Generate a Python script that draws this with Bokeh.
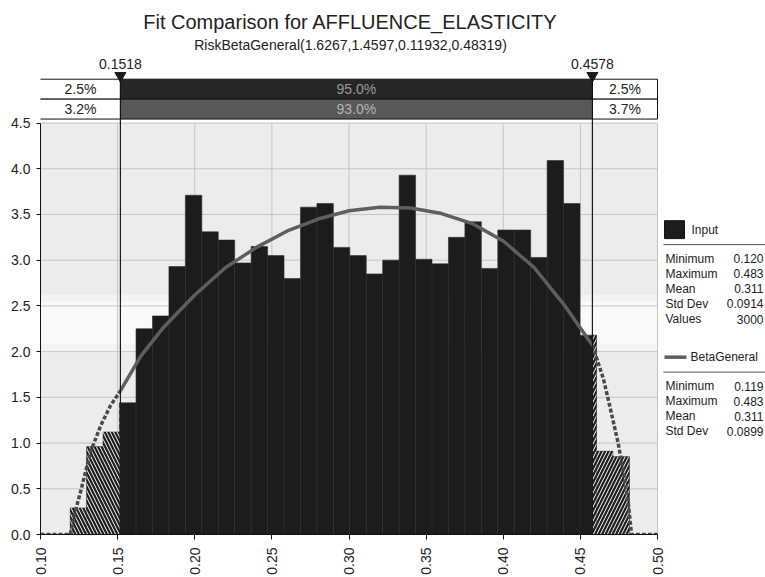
import math
from bokeh.plotting import figure
from bokeh.models import Range1d, FixedTicker, NumeralTickFormatter
from bokeh.core.properties import value
from bokeh.embed import file_html
from bokeh.resources import INLINE

# ---------------- data ----------------
title_text = "Fit Comparison for AFFLUENCE_ELASTICITY"
subtitle_text = "RiskBetaGeneral(1.6267,1.4597,0.11932,0.48319)"

bin_start = 0.1193
bin_width = 0.01066
bin_heights = [0.29, 0.96, 1.12, 1.44, 2.25, 2.39, 2.93, 3.71, 3.31, 3.22,
               2.97, 3.15, 3.05, 2.80, 3.58, 3.62, 3.14, 3.05, 2.85, 3.00,
               3.93, 3.01, 2.96, 3.25, 3.42, 2.91, 3.33, 3.33, 3.03, 4.09,
               3.62, 2.18, 0.91, 0.85]

curve_x = [0.100, 0.1193, 0.1225, 0.126, 0.1324, 0.139, 0.1454, 0.1518,
           0.165, 0.180, 0.200, 0.220, 0.240, 0.260, 0.280, 0.300, 0.320,
           0.340, 0.360, 0.380, 0.400, 0.420, 0.440, 0.4578, 0.465, 0.4698,
           0.4745, 0.4783, 0.481, 0.4832, 0.500]
curve_y = [0.0, 0.0, 0.25, 0.47, 0.90, 1.19, 1.41, 1.57,
           1.95, 2.27, 2.62, 2.92, 3.14, 3.32, 3.45, 3.54, 3.58,
           3.57, 3.51, 3.40, 3.21, 2.92, 2.50, 2.07, 1.70, 1.35,
           1.00, 0.64, 0.35, 0.0, 0.0]

cut_lo = 0.1518
cut_hi = 0.4578
pct_input = ["2.5%", "95.0%", "2.5%"]
pct_fit = ["3.2%", "93.0%", "3.7%"]

x_ticks = [0.10, 0.15, 0.20, 0.25, 0.30, 0.35, 0.40, 0.45, 0.50]
y_ticks = [0.0, 0.5, 1.0, 1.5, 2.0, 2.5, 3.0, 3.5, 4.0, 4.5]

input_name = "Input"
input_stat_names = ["Minimum", "Maximum", "Mean", "Std Dev", "Values"]
input_stat_values = ["0.120", "0.483", "0.311", "0.0914", "3000"]
fit_name = "BetaGeneral"
fit_stat_names = ["Minimum", "Maximum", "Mean", "Std Dev"]
fit_stat_values = ["0.119", "0.483", "0.311", "0.0899"]

# ---------------- layout helpers (picture pixels -> data) ----------------
W, H = 765, 577
FL, FB = 40, 536          # frame left / bottom in picture pixels

def X(px):
    return 0.10 + (px - FL) / 1542.5

def Y(py):
    return (FB - py) / 91.78

FONT = value("Liberation Sans")

p = figure(width=W, height=H, output_backend="svg", toolbar_location=None,
           x_range=Range1d(0.10, X(W)), y_range=Range1d(0, Y(0)),
           min_border_left=FL, min_border_right=0, min_border_top=0,
           min_border_bottom=H - FB)
p.outline_line_color = None
p.grid.visible = False
p.background_fill_color = "white"
p.border_fill_color = "white"

# axes
p.xaxis.bounds = (x_ticks[0], x_ticks[-1])
p.xaxis.ticker = FixedTicker(ticks=x_ticks)
p.xaxis.formatter = NumeralTickFormatter(format="0.00")
p.xaxis.major_label_orientation = math.pi / 2
p.yaxis.bounds = (y_ticks[0], y_ticks[-1])
p.yaxis.ticker = FixedTicker(ticks=y_ticks)
p.yaxis.formatter = NumeralTickFormatter(format="0.0")
for ax in (p.xaxis, p.yaxis):
    ax.axis_line_color = "#111111"
    ax.major_tick_line_color = "#111111"
    ax.minor_tick_line_color = None
    ax.major_tick_in = 0
    ax.major_label_text_font = "Liberation Sans"
    ax.major_label_text_font_size = "14px"
    ax.major_label_text_color = "#222222"
p.xaxis.major_tick_out = 5
p.xaxis.major_label_standoff = 8
p.yaxis.major_tick_out = 4
p.yaxis.major_label_standoff = 6

# plot background and light band
x0, x1 = x_ticks[0], x_ticks[-1]
y0, y1 = y_ticks[0], y_ticks[-1]
p.quad(left=[x0], right=[x1], bottom=[y0], top=[y1], fill_color="#ececec", line_color=None)
p.quad(left=[x0], right=[x1], bottom=[2.0], top=[2.62], fill_color="#f3f3f3", line_color=None)
p.quad(left=[x0], right=[x1], bottom=[2.08], top=[2.55], fill_color="#f9f9f9", line_color=None)

# grid
p.segment(x0=x_ticks, y0=[y0] * len(x_ticks), x1=x_ticks, y1=[y1] * len(x_ticks),
          line_color="#c4c4c4", line_width=1)
p.segment(x0=[x0] * len(y_ticks), y0=y_ticks, x1=[x1] * len(y_ticks), y1=y_ticks,
          line_color="#c4c4c4", line_width=1)

# histogram
lefts = [bin_start + i * bin_width for i in range(len(bin_heights))]
rights = [l + bin_width for l in lefts]
p.quad(left=lefts, right=rights, bottom=0, top=bin_heights,
       fill_color="#1c1c1c", line_color="#2c2c2c", line_width=0.6)

# hatched tails
hl, hr, ht = [], [], []
for l, r, h in zip(lefts, rights, bin_heights):
    if l < cut_lo:
        hl.append(l); hr.append(min(r, cut_lo)); ht.append(h)
p.quad(left=hl, right=hr, bottom=0, top=ht, fill_color="#1c1c1c", line_color=None,
       hatch_pattern="left_diagonal_line", hatch_color="white", hatch_weight=1,
       hatch_scale=7)
rl, rr, rt = [], [], []
for l, r, h in zip(lefts, rights, bin_heights):
    if r > cut_hi:
        rl.append(max(l, cut_hi)); rr.append(r); rt.append(h)
p.quad(left=rl, right=rr, bottom=0, top=rt, fill_color="#1c1c1c", line_color=None,
       hatch_pattern="right_diagonal_line", hatch_color="white", hatch_weight=1,
       hatch_scale=7)

# fitted curve: solid in middle, dashed in tails
mid = [(x, y) for x, y in zip(curve_x, curve_y) if cut_lo <= x <= cut_hi]
lt = [(x, y) for x, y in zip(curve_x, curve_y) if x <= cut_lo]
rt_ = [(x, y) for x, y in zip(curve_x, curve_y) if x >= cut_hi]
for seg, dash, col in ((lt, "4 2", "#4a4a4a"), (rt_, "4 2", "#4a4a4a"), (mid, "solid", "#5e5e5e")):
    p.line([s[0] for s in seg], [s[1] for s in seg], line_color=col, line_width=3.5,
           line_dash=dash)

# cut lines
p.segment(x0=[cut_lo, cut_hi], y0=[0, 0], x1=[cut_lo, cut_hi], y1=[Y(79)] * 2,
          line_color="#1a1a1a", line_width=1.2)

# percentage rows
row_tops = [Y(79), Y(99)]
row_bots = [Y(99), Y(119)]
mid_fills = ["#262626", "#585858"]
mid_text_colors = ["#9a9a9a", "#b4b4b4"]
for i, row in enumerate([pct_input, pct_fit]):
    t, b = row_tops[i], row_bots[i]
    p.quad(left=[X(38), cut_hi], right=[cut_lo, x1], top=[t, t], bottom=[b, b],
           fill_color="white", line_color="#111111", line_width=1)
    p.quad(left=[cut_lo], right=[cut_hi], top=[t], bottom=[b],
           fill_color=mid_fills[i], line_color="#111111", line_width=1)
    ym = (t + b) / 2
    p.text(x=[(x0 + cut_lo) / 2, (cut_hi + x1) / 2], y=[ym, ym], text=[row[0], row[2]],
           text_font=FONT, text_font_size=value("14px"), text_color="#222222",
           text_align="center", text_baseline="middle")
    p.text(x=[(cut_lo + cut_hi) / 2], y=[ym], text=[row[1]],
           text_font=FONT, text_font_size=value("14px"), text_color=mid_text_colors[i],
           text_align="center", text_baseline="middle")

# cut markers and labels
p.scatter(x=[cut_lo, cut_hi], y=[Y(75.5)] * 2, marker="inverted_triangle", size=11,
          fill_color="#1a1a1a", line_color="#1a1a1a")
p.text(x=[cut_lo, cut_hi], y=[Y(64)] * 2, text=[f"{cut_lo:.4f}", f"{cut_hi:.4f}"],
       text_font=FONT, text_font_size=value("14px"), text_color="#222222",
       text_align="center", text_baseline="middle")

# titles
p.text(x=[X(350)], y=[Y(22)], text=[title_text], text_font=FONT,
       text_font_size=value("20px"), text_color="#222222",
       text_align="center", text_baseline="middle")
p.text(x=[X(350)], y=[Y(45)], text=[subtitle_text], text_font=FONT,
       text_font_size=value("14px"), text_color="#222222",
       text_align="center", text_baseline="middle")

# legend panel
LXV = X(763)
p.quad(left=[X(664)], right=[X(684)], top=[Y(221)], bottom=[Y(239)],
       fill_color="#1c1c1c", line_color="#111111")
p.text(x=[X(691)], y=[Y(230)], text=[input_name], text_font=FONT,
       text_font_size=value("12px"), text_color="#222222", text_baseline="middle")
p.segment(x0=[X(663)], y0=[Y(245)], x1=[X(765)], y1=[Y(245)], line_color="#555555", line_width=1)
ys1 = [Y(259 + 15.2 * i) for i in range(len(input_stat_names))]
p.text(x=[X(665)] * len(ys1), y=ys1, text=input_stat_names, text_font=FONT,
       text_font_size=value("12px"), text_color="#222222", text_baseline="middle")
p.text(x=[LXV] * len(ys1), y=ys1, text=input_stat_values, text_font=FONT,
       text_font_size=value("12px"), text_color="#222222", text_baseline="middle",
       text_align="right")

p.line([X(664), X(686)], [Y(358), Y(358)], line_color="#5e5e5e", line_width=3.5)
p.text(x=[X(690)], y=[Y(358)], text=[fit_name], text_font=FONT,
       text_font_size=value("12px"), text_color="#222222", text_baseline="middle")
p.segment(x0=[X(663)], y0=[Y(373)], x1=[X(765)], y1=[Y(373)], line_color="#555555", line_width=1)
ys2 = [Y(387 + 15.2 * i) for i in range(len(fit_stat_names))]
p.text(x=[X(665)] * len(ys2), y=ys2, text=fit_stat_names, text_font=FONT,
       text_font_size=value("12px"), text_color="#222222", text_baseline="middle")
p.text(x=[LXV] * len(ys2), y=ys2, text=fit_stat_values, text_font=FONT,
       text_font_size=value("12px"), text_color="#222222", text_baseline="middle",
       text_align="right")

open("out.html", "w").write(file_html(p, INLINE))
